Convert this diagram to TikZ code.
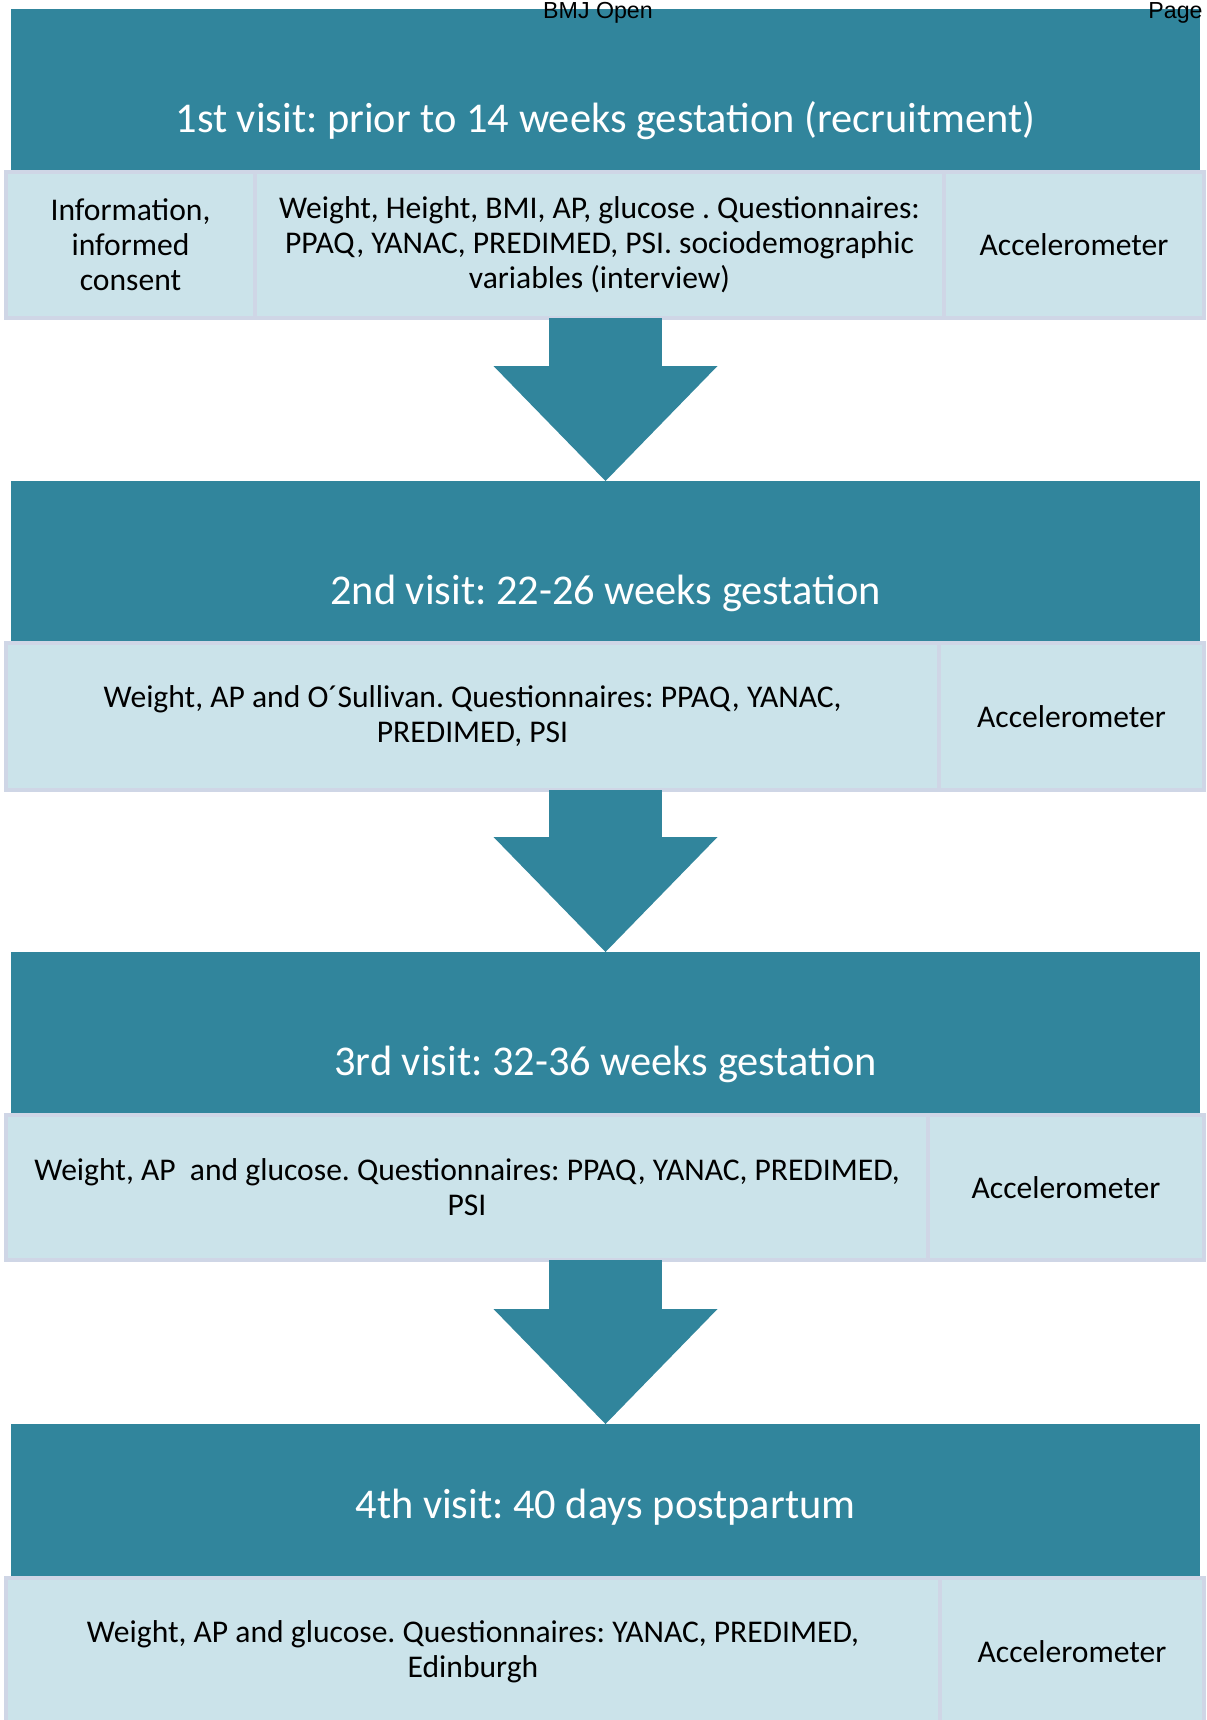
\documentclass[tikz,border=0pt]{standalone}
\usepackage{fontspec}
\setmainfont{Carlito}
\newfontfamily\pagefont{Liberation Sans}
\usetikzlibrary{positioning,calc,arrows.meta}
\definecolor{visitblue}{RGB}{49,133,156}
\definecolor{cellfill}{RGB}{203,227,234}
\definecolor{cellline}{RGB}{207,214,230}
\frenchspacing

\begin{document}
\begin{tikzpicture}[x=0.5pt,y=-0.5pt,
  visit/.style={fill=visitblue,anchor=north west,minimum width=594.5pt,inner sep=0pt,outer sep=0pt},
  title/.style={text=white,font=\fontsize{21.2}{25}\selectfont,text height=0.75em,text depth=0.25em},
  cell/.style={draw=cellline,line width=2pt,fill=cellfill,align=center,inner sep=0pt,outer sep=0pt,font=\fontsize{15.8}{17.5}\selectfont},
  flow/.style={draw=visitblue,line width=56.5pt,-{Triangle[length=57.5pt,width=112pt,line width=0pt]}},
  head/.style={font=\pagefont\fontsize{11.6}{13}\selectfont,inner sep=0pt}]
\useasboundingbox (0,0) rectangle (1206,1720);

\node[visit,minimum height=81.5pt] (h1) at (11,9) {};
\node[title] (t1) at ($(h1.north)+(0,118)$) {1st visit: prior to 14 weeks gestation (recruitment)};
\node[head,anchor=base] (bmj) at (598,18) {BMJ Open};
\node[head,anchor=base east] (pg) at (1203,18) {Page};
\node[cell,anchor=north west,minimum width=124.5pt,minimum height=73pt] (a1) at (6,172) {Information,\\informed\\consent};
\node[cell,right=0pt of a1,minimum width=344.5pt,minimum height=73pt] (b1) {Weight, Height, BMI, AP, glucose . Questionnaires:\\PPAQ, YANAC, PREDIMED, PSI. sociodemographic\\variables (interview)};
\node[cell,right=0pt of b1,minimum width=130pt,minimum height=73pt] (c1) {Accelerometer};

\node[visit,minimum height=81pt] (h2) at (11,481) {};
\node[title] (t2) at ($(h2.north)+(0,118)$) {2nd visit: 22-26 weeks gestation};
\node[cell,anchor=north west,minimum width=466.5pt,minimum height=73.5pt] (a2) at (6,643) {Weight, AP and O´Sullivan. Questionnaires: PPAQ, YANAC,\\PREDIMED, PSI};
\node[cell,right=0pt of a2,minimum width=132.5pt,minimum height=73.5pt] (c2) {Accelerometer};

\node[visit,minimum height=81.5pt] (h3) at (11,952) {};
\node[title] (t3) at ($(h3.north)+(0,118)$) {3rd visit: 32-36 weeks gestation};
\node[cell,anchor=north west,minimum width=461pt,minimum height=72.5pt] (a3) at (6,1115) {Weight, AP\ \ and glucose. Questionnaires: PPAQ, YANAC, PREDIMED,\\PSI};
\node[cell,right=0pt of a3,minimum width=138pt,minimum height=72.5pt] (c3) {Accelerometer};

\node[visit,minimum height=77pt] (h4) at (11,1424) {};
\node[title] (t4) at ($(h4.north)+(0,89)$) {4th visit: 40 days postpartum};
\node[cell,anchor=north west,minimum width=467pt,minimum height=74pt] (a4) at (6,1578) {Weight, AP and glucose. Questionnaires: YANAC, PREDIMED,\\Edinburgh};
\node[cell,right=0pt of a4,minimum width=132pt,minimum height=74pt] (c4) {Accelerometer};

\draw[flow] (h2.north |- a1.south) -- (h2.north);
\draw[flow] (h3.north |- a2.south) -- (h3.north);
\draw[flow] (h4.north |- a3.south) -- (h4.north);
\end{tikzpicture}
\end{document}
